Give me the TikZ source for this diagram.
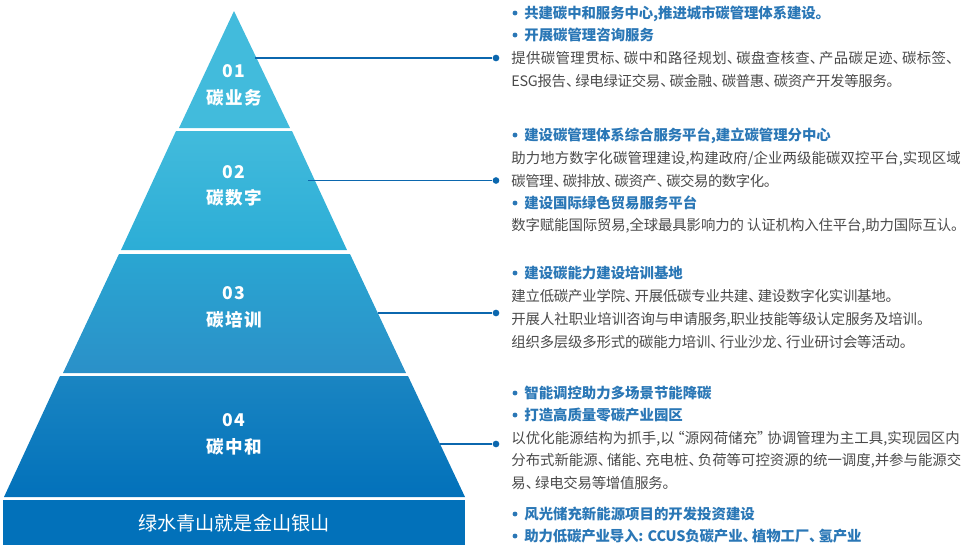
\documentclass[tikz,border=0pt]{standalone}
\usepackage{fontspec}
\setmainfont{Noto Sans CJK SC}
\newfontfamily\tierfont[LetterSpace=8]{Noto Sans CJK SC}
\usetikzlibrary{positioning}
\definecolor{linkblue}{HTML}{0B67AE}
\definecolor{headblue}{HTML}{2A77B6}
\definecolor{bodygrey}{HTML}{4A4A4A}
\definecolor{tierA}{HTML}{42BBDC}
\definecolor{tierB}{HTML}{2CADD6}
\definecolor{tierC}{HTML}{2AA6D2}
\definecolor{tierD}{HTML}{1E9FD0}
\definecolor{tierE}{HTML}{2A90C8}
\definecolor{tierF}{HTML}{1A85C2}
\definecolor{tierG}{HTML}{0C7ABE}
\definecolor{tierH}{HTML}{0271BA}
\newcommand{\dun}{\makebox[.65em][l]{、}}
\newcommand{\oq}{\makebox[.7em][r]{“}}
\newcommand{\cq}{\makebox[.7em][l]{”}}
\tikzset{
	dotnode/.style={circle,fill=linkblue,inner sep=0pt,minimum size=3.8pt},
	link/.style={linkblue,line width=.8pt},
	tierlabel/.style={white,font=\tierfont\fontsize{10}{12}\selectfont\bfseries},
	bodyline/.style={anchor=west,inner sep=0pt,text height=7.2pt,text depth=1pt,text=bodygrey,font=\fontsize{8.2}{10}\selectfont},
	headline/.style={bodyline,text=headblue,font=\fontsize{8.2}{10}\selectfont\bfseries},
	headdot/.style={circle,fill=headblue,inner sep=0pt,minimum size=2.8pt},
}
\begin{document}
\begin{tikzpicture}[x=.02cm,y=-.02cm]
	\useasboundingbox (0,0) rectangle (965,549);
	% pyramid
	\fill [tierA] (234,11) -- (290,128) -- (179,128) -- cycle;
	\shade [top color=tierA,middle color=tierA,bottom color=tierB] (176,131) -- (292,131) -- (347,250) -- (121,250) -- cycle;
	\shade [top color=tierC,middle color=tierD,bottom color=tierE] (119,254) -- (350,254) -- (406,373) -- (63,373) -- cycle;
	\shade [top color=tierF,middle color=tierG,bottom color=tierH] (60,376) -- (408,376) -- (465,497) -- (4,497) -- cycle;
	\fill [tierH] (3,500) rectangle (465,545);
	\node [tierlabel] (n1) at (234,71) {01};
	\node [tierlabel] (t1) at (234,98) {碳业务};
	\node [tierlabel] (n2) at (234,172) {02};
	\node [tierlabel] (t2) at (234,198) {碳数字};
	\node [tierlabel] (n3) at (234,293) {03};
	\node [tierlabel] (t3) at (234,320) {碳培训};
	\node [tierlabel] (n4) at (234,420) {04};
	\node [tierlabel] (t4) at (234,447) {碳中和};
	\node [white,font=\fontsize{10.9}{13}\selectfont] (base) at (234,523) {绿水青山就是金山银山};
	% connectors
	\foreach \i/\xa/\ya in {1/255/58,2/308/180.5,3/378/313,4/440/444}{
		\coordinate (a\i) at (\xa,\ya);
		\node [dotnode] (d\i) at (496,\ya) {};
		\draw [link] (a\i) -- (d\i);
	}
	% headings
	\foreach \i/\ya/\ls/\txt in {1/13/-.6/{共建碳中和服务中心,推进城市碳管理体系建设。},2/35/0/{开展碳管理咨询服务},3/135/-.4/{建设碳管理体系综合服务平台,建立碳管理分中心},4/203/0/{建设国际绿色贸易服务平台},5/273/0/{建设碳能力建设培训基地},6/393/0/{智能调控助力多场景节能降碳},7/415/0/{打造高质量零碳产业园区},8/514/0/{风光储充新能源项目的开发投资建设},9/536/-1/{助力低碳产业导入: CCUS负碳产业\dun 植物工厂\dun 氢产业}}{
		\node [headdot] (b\i) at (515,\ya) {};
		\node [headline] (h\i) at (524,\ya) {\addfontfeature{LetterSpace=\ls}\txt};
	}
	% body text
	\foreach \i/\ya/\ls/\txt in {1/58/2.6/{提供碳管理贯标\dun 碳中和路径规划\dun 碳盘查核查\dun 产品碳足迹\dun 碳标签\dun},2/81/-2/{ESG报告\dun 绿电绿证交易\dun 碳金融\dun 碳普惠\dun 碳资产开发等服务。},3/158/.8/{助力地方数字化碳管理建设,构建政府/企业两级能碳双控平台,实现区域},4/181/-3.3/{碳管理\dun 碳排放\dun 碳资产\dun 碳交易的数字化。},5/225/-.8/{数字赋能国际贸易,全球最具影响力的 认证机构入住平台,助力国际互认。},6/296/-1.4/{建立低碳产业学院\dun 开展低碳专业共建\dun 建设数字化实训基地。},7/319/-.4/{开展人社职业培训咨询与申请服务,职业技能等级认定服务及培训。},8/342/-1.4/{组织多层级多形式的碳能力培训\dun 行业沙龙\dun 行业研讨会等活动。},9/438/.6/{以优化能源结构为抓手,以\oq 源网荷储充\cq 协调管理为主工具,实现园区内},10/460/0/{分布式新能源\dun 储能\dun 充电桩\dun 负荷等可控资源的统一调度,并参与能源交},11/483/-1.7/{易\dun 绿电交易等增值服务。}}{
		\node [bodyline] (l\i) at (511,\ya) {\addfontfeature{LetterSpace=\ls}\txt};
	}
\end{tikzpicture}
\end{document}
